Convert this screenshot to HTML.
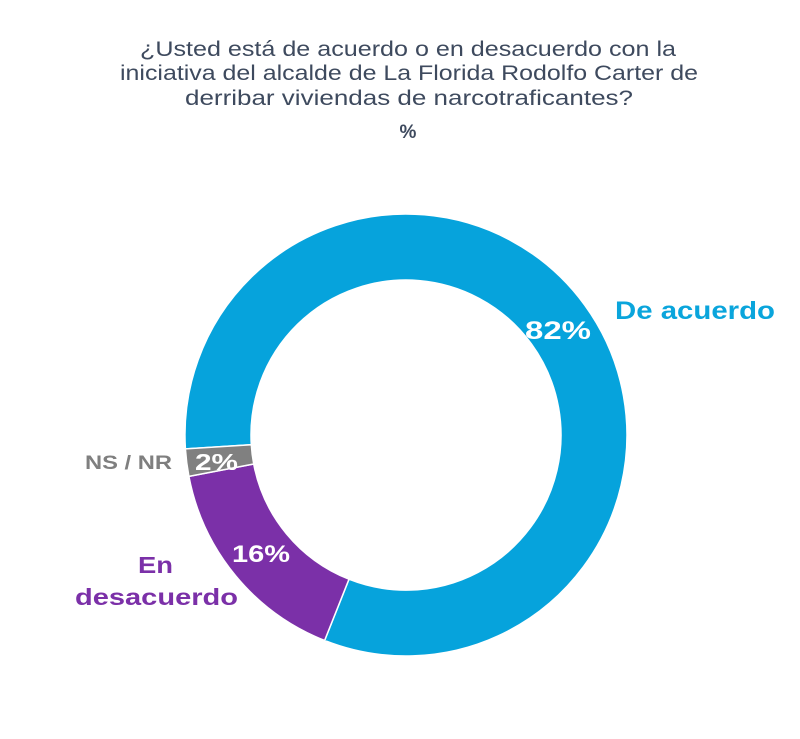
<!DOCTYPE html>
<html><head><meta charset="utf-8"><style>
html,body{margin:0;padding:0;background:#fff;}
body{width:800px;height:734px;overflow:hidden;font-family:"Liberation Sans",sans-serif;}
</style></head><body>
<svg width="800" height="734" xmlns="http://www.w3.org/2000/svg" font-family="Liberation Sans, sans-serif">
<g fill="#3e4a5e" font-size="21">
<text x="140" y="56" textLength="536" lengthAdjust="spacingAndGlyphs">¿Usted está de acuerdo o en desacuerdo con la</text>
<text x="120" y="80" textLength="578" lengthAdjust="spacingAndGlyphs">iniciativa del alcalde de La Florida Rodolfo Carter de</text>
<text x="185" y="105" textLength="448" lengthAdjust="spacingAndGlyphs">derribar viviendas de narcotraficantes?</text>
<text x="408" y="138" font-weight="bold" font-size="19" text-anchor="middle">%</text>
</g>
<g stroke="#fff" stroke-width="1.5">
<path fill="#06a3dc" d="M185.4,448.9 A221,221 0 1 1 324.6,640.5 L349.0,579.2 A155,155 0 1 0 251.3,444.7 Z"/>
<path fill="#7b30a8" d="M324.6,640.5 A221,221 0 0 1 188.9,476.4 L253.7,464.0 A155,155 0 0 0 349.0,579.2 Z"/>
<path fill="#808080" d="M188.9,476.4 A221,221 0 0 1 185.4,448.9 L251.3,444.7 A155,155 0 0 0 253.7,464.0 Z"/>
</g>
<g font-weight="bold">
<text x="525" y="339" fill="#fff" font-size="25" textLength="66" lengthAdjust="spacingAndGlyphs">82%</text>
<text x="615" y="319" fill="#0aa5dc" font-size="25" textLength="160" lengthAdjust="spacingAndGlyphs">De acuerdo</text>
<text x="85" y="469" fill="#7f7f7f" font-size="19" textLength="87" lengthAdjust="spacingAndGlyphs">NS / NR</text>
<text x="195" y="470" fill="#fff" font-size="23" textLength="43" lengthAdjust="spacingAndGlyphs">2%</text>
<text x="232" y="562" fill="#fff" font-size="24" textLength="58" lengthAdjust="spacingAndGlyphs">16%</text>
<text x="138" y="573" fill="#7b30a8" font-size="23" textLength="35" lengthAdjust="spacingAndGlyphs">En</text>
<text x="75" y="605" fill="#7b30a8" font-size="23" textLength="163" lengthAdjust="spacingAndGlyphs">desacuerdo</text>
</g>
</svg>
</body></html>
